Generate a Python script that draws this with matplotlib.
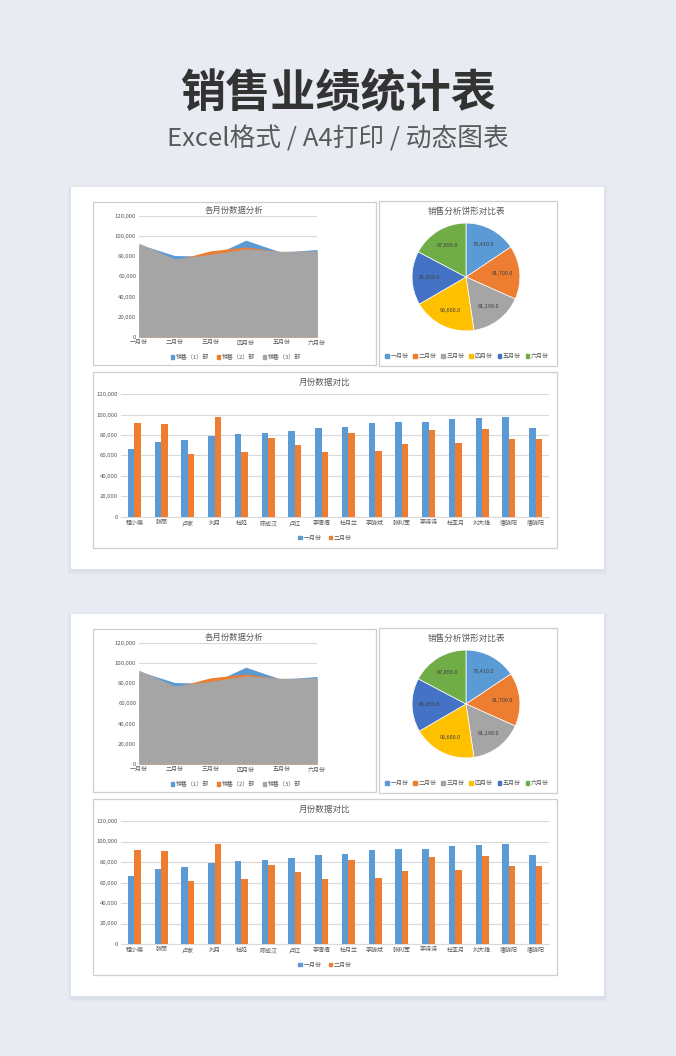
import matplotlib
matplotlib.use("Agg")
import matplotlib.pyplot as plt
from matplotlib.patches import Rectangle, Patch
from matplotlib.ticker import FuncFormatter
import numpy as np

plt.rcParams['font.family'] = ['Noto Sans CJK SC', 'DejaVu Sans']

# ---------------- data ----------------
title = "销售业绩统计表"
subtitle = "Excel格式 / A4打印 / 动态图表"

months = ["一月份", "二月份", "三月份", "四月份", "五月份", "六月份"]
area_series_names = ["销售（1）部", "销售（2）部", "销售（3）部"]
sales_dept1 = [92000, 80800, 79600, 96000, 84000, 86800]
sales_dept2 = [90000, 76000, 85400, 89300, 84500, 84000]
sales_dept3 = [93000, 77500, 82000, 87400, 85000, 85400]

pie_labels = ["一月份", "二月份", "三月份", "四月份", "五月份", "六月份"]
pie_values = [79410.0, 81700.0, 81190.0, 96600.0, 81850.0, 87856.0]

people = ["程小蝶", "张丽", "卢家", "刘月", "杜鸣", "陈成汉", "卢红", "李倩倩",
          "杜月兰", "李晓斌", "张利军", "李诗诗", "杜亚月", "刘大雄", "唐晓阳", "唐晓阳"]
bar_series_names = ["一月份", "二月份"]
jan_values = [66000, 73200, 75200, 79100, 81400, 82000, 84000, 86900,
              87600, 91500, 92500, 92500, 95400, 96100, 97100, 86900]
feb_values = [91800, 91200, 61800, 97400, 63400, 77100, 69900, 63400,
              82000, 64000, 71200, 85000, 72200, 85600, 75800, 75800]

area_title = "各月份数据分析"
pie_title = "销售分析饼形对比表"
bar_title = "月份数据对比"

# ---------------- styling ----------------
W, H = 676, 1056
BG = "#e8ebf2"
BLUE = "#5B9BD5"
ORANGE = "#ED7D31"
GRAY = "#A5A5A5"
PIE_COLORS = ["#5B9BD5", "#ED7D31", "#A5A5A5", "#FFC000", "#4472C4", "#70AD47"]
TXT = "#595959"
GRID = "#d9d9d9"
BOX = "#cfcfcf"

fig = plt.figure(figsize=(W / 100, H / 100), dpi=100, facecolor=BG)


def rect(x0, y0, x1, y1):
    return [x0 / W, 1 - y1 / H, (x1 - x0) / W, (y1 - y0) / H]


def fig_rect(x0, y0, x1, y1, z=-10, **kw):
    fig.patches.append(Rectangle((x0 / W, 1 - y1 / H), (x1 - x0) / W, (y1 - y0) / H,
                                 transform=fig.transFigure, figure=fig, zorder=z, **kw))


def fx(x):
    return x / W


def fy(y):
    return 1 - y / H


thousands = FuncFormatter(lambda v, p: f"{int(v):,}")

fig.text(0.5, fy(93), title, ha="center", va="center", fontsize=32.5,
         fontweight="bold", color="#333333")
fig.text(0.5, fy(139), subtitle, ha="center", va="center", fontsize=18.5,
         color="#5a5a5a")


def draw_panel(dy):
    # card shadow + card
    for i, a in enumerate([0.05, 0.04, 0.03, 0.02]):
        s = i + 1
        fig_rect(71 - s, 187 + dy - s + 2, 604 + s, 569 + dy + s + 2, z=-20,
                 facecolor="#9aa3b8", alpha=a, edgecolor="none")
    fig_rect(71, 187 + dy, 604, 569 + dy, z=-15, facecolor="white", edgecolor="none")

    # chart boxes
    for (x0, y0, x1, y1) in [(93, 202, 376, 365), (379, 201, 557, 366), (93, 372, 557, 548)]:
        fig_rect(x0, y0 + dy, x1, y1 + dy, z=-10, facecolor="white", edgecolor=BOX, linewidth=0.9)

    # ---- area chart ----
    ax = fig.add_axes(rect(139, 216 + dy, 317, 337 + dy))
    x = np.arange(len(months))
    ax.set_ylim(0, 120000)
    ax.set_xlim(0, len(months) - 1)
    ax.set_yticks(np.arange(0, 120001, 20000))
    ax.yaxis.set_major_formatter(thousands)
    ax.grid(axis="y", color=GRID, linewidth=0.8, zorder=0)
    ax.set_axisbelow(True)
    ax.fill_between(x, sales_dept1, color=BLUE, linewidth=0, zorder=2)
    ax.fill_between(x, sales_dept2, color=ORANGE, linewidth=0, zorder=3)
    ax.fill_between(x, sales_dept3, color=GRAY, linewidth=0, zorder=4)
    ax.set_xticks(x)
    ax.set_xticklabels(months)
    for sp in ["top", "right", "left"]:
        ax.spines[sp].set_visible(False)
    ax.spines["bottom"].set_color(GRID)
    ax.tick_params(axis="both", length=0, labelsize=4.3, colors=TXT, pad=2)
    ax.set_facecolor("none")
    fig.text(fx(234), fy(210 + dy), area_title, ha="center", va="center",
             fontsize=6, color=TXT)
    handles = [Patch(color=c, label=n) for c, n in zip([BLUE, ORANGE, GRAY], area_series_names)]
    fig.legend(handles=handles, loc="center", bbox_to_anchor=(fx(236), fy(357 + dy)),
               ncol=3, frameon=False, fontsize=4.3, labelcolor=TXT,
               handlelength=0.6, handleheight=0.6, handletextpad=0.3, columnspacing=1.2)

    # ---- pie chart ----
    axp = fig.add_axes(rect(411, 222 + dy, 521, 332 + dy))
    wedges, _ = axp.pie(pie_values, colors=PIE_COLORS, startangle=90, counterclock=False,
                        wedgeprops=dict(edgecolor="white", linewidth=0.5))
    total = sum(pie_values)
    ang = 90.0
    for v in pie_values:
        theta = np.deg2rad(ang - v / total * 180)
        axp.text(0.68 * np.cos(theta), 0.68 * np.sin(theta), f"{v:,.1f}",
                 ha="center", va="center", fontsize=4, color="#404040")
        ang -= v / total * 360
    axp.set_xlim(-1.02, 1.02)
    axp.set_ylim(-1.02, 1.02)
    axp.set_aspect("equal")
    fig.text(fx(467), fy(211 + dy), pie_title, ha="center", va="center",
             fontsize=6.2, color=TXT)
    handles = [Patch(color=c, label=n) for c, n in zip(PIE_COLORS, pie_labels)]
    fig.legend(handles=handles, loc="center", bbox_to_anchor=(fx(467), fy(356 + dy)),
               ncol=6, frameon=False, fontsize=4.3, labelcolor=TXT,
               handlelength=0.6, handleheight=0.6, handletextpad=0.3, columnspacing=0.8)

    # ---- bar chart ----
    axb = fig.add_axes(rect(121, 394 + dy, 549, 517 + dy))
    xb = np.arange(len(people))
    bw = 0.24
    axb.bar(xb - bw / 2, jan_values, width=bw, color=BLUE, zorder=3)
    axb.bar(xb + bw / 2, feb_values, width=bw, color=ORANGE, zorder=3)
    axb.set_xlim(-0.5, len(people) - 0.5)
    axb.set_ylim(0, 120000)
    axb.set_yticks(np.arange(0, 120001, 20000))
    axb.yaxis.set_major_formatter(thousands)
    axb.grid(axis="y", color=GRID, linewidth=0.8, zorder=0)
    axb.set_axisbelow(True)
    axb.set_xticks(xb)
    axb.set_xticklabels(people)
    for sp in ["top", "right", "left"]:
        axb.spines[sp].set_visible(False)
    axb.spines["bottom"].set_color(GRID)
    axb.tick_params(axis="both", length=0, labelsize=4.3, colors=TXT, pad=2.5)
    axb.set_facecolor("none")
    fig.text(fx(325), fy(382 + dy), bar_title, ha="center", va="center",
             fontsize=6.2, color=TXT)
    handles = [Patch(color=c, label=n) for c, n in zip([BLUE, ORANGE], bar_series_names)]
    fig.legend(handles=handles, loc="center", bbox_to_anchor=(fx(325), fy(538 + dy)),
               ncol=2, frameon=False, fontsize=4.3, labelcolor=TXT,
               handlelength=0.6, handleheight=0.6, handletextpad=0.3, columnspacing=1.2)


draw_panel(0)
draw_panel(427)

fig.savefig("out.png", dpi=100, facecolor=BG)
